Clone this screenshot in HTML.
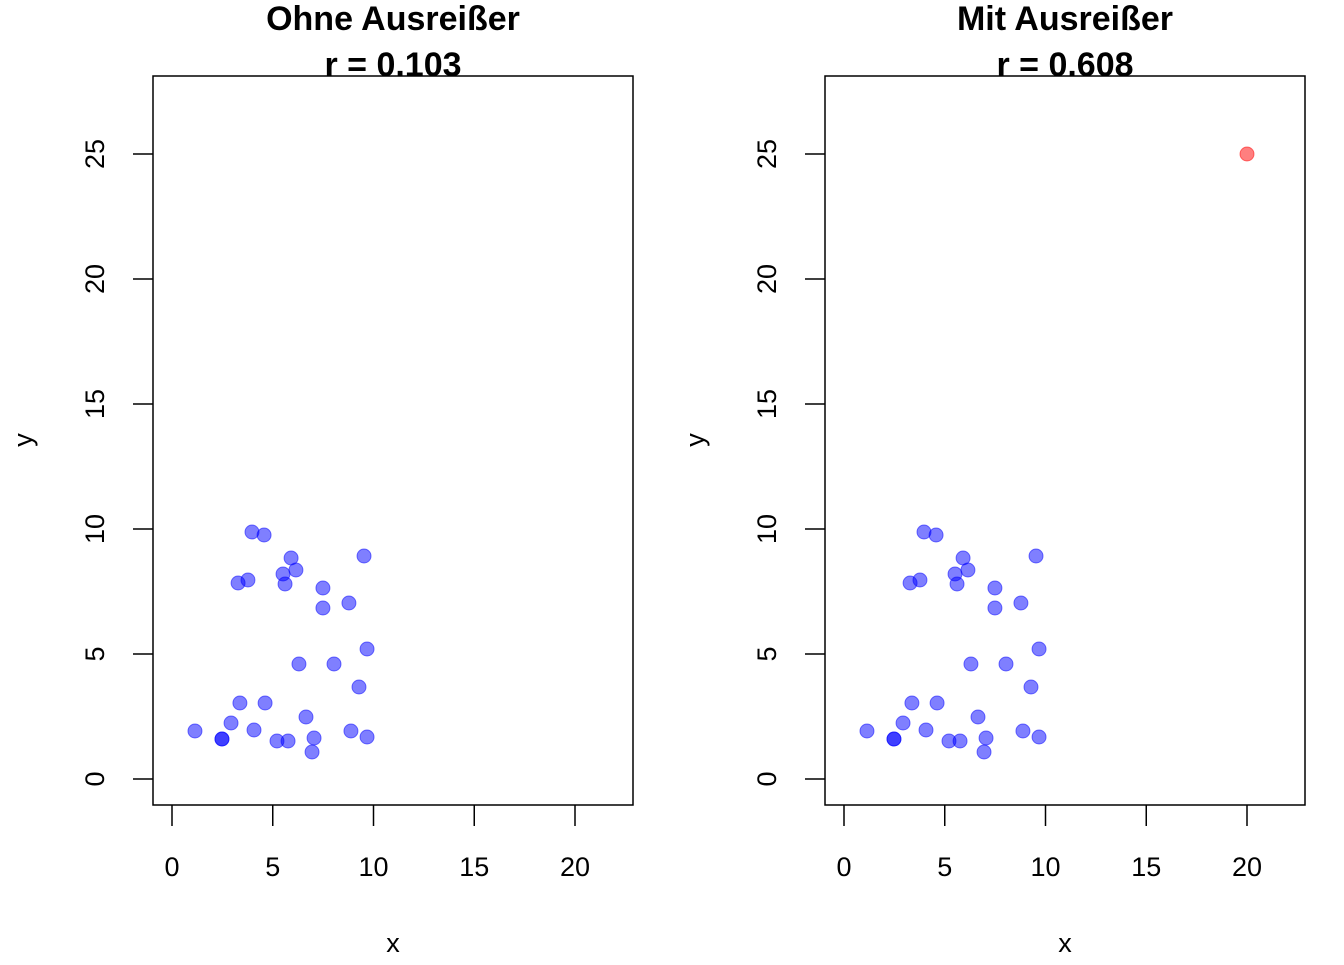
<!DOCTYPE html>
<html><head><meta charset="utf-8"><style>
body{margin:0;background:#fff;}
svg text{font-family:"Liberation Sans",Arial,sans-serif;fill:#000;}
</style></head><body>
<svg id="chart" width="1344" height="960" xmlns="http://www.w3.org/2000/svg"></svg>
<script>
const xs=[1.14,2.48,2.48,2.93,3.37,3.28,3.77,3.97,4.07,4.57,4.62,5.21,5.51,5.61,5.76,5.91,6.15,6.30,6.65,6.95,7.05,7.49,7.49,8.04,8.78,8.88,9.28,9.53,9.68,9.68];
const ys=[1.92,1.6,1.6,2.24,3.04,7.84,7.96,9.88,1.96,9.76,3.04,1.52,8.2,7.8,1.52,8.84,8.36,4.6,2.48,1.08,1.64,7.64,6.84,4.6,7.04,1.92,3.68,8.92,5.2,1.68];
const outlierX=[20];
const outlierY=[25];
const xTicks=[0,5,10,15,20];
const yTicks=[0,5,10,15,20,25];
const titles=["Ohne Ausreißer","Mit Ausreißer"];
const rLabels=["r = 0.103","r = 0.608"];
const NS="http://www.w3.org/2000/svg";
const svg=document.getElementById('chart');
function mk(t,a,txt){const e=document.createElementNS(NS,t);for(const k in a)e.setAttribute(k,a[k]);if(txt!==undefined)e.textContent=txt;svg.appendChild(e);return e;}
const panels=[{bx:153,x0:172},{bx:825,x0:844}];
const ppx=(575-172)/20, ppy=(779-154)/25, y0=779;
panels.forEach((p,i)=>{
  const sx=v=>p.x0+v*ppx, sy=v=>y0-v*ppy;
  let e=mk('rect',{x:p.bx,y:76,width:480,height:729,fill:'none',stroke:'#000','stroke-width':1.5});
  
  e=mk('text',{x:p.bx+240,y:30,'text-anchor':'middle','font-size':34,'font-weight':'bold'},titles[i]);
  
  e=mk('text',{x:p.bx+240,y:76,'text-anchor':'middle','font-size':34,'font-weight':'bold'},rLabels[i]);
  
  xTicks.forEach(t=>{mk('line',{x1:sx(t),x2:sx(t),y1:805,y2:826,stroke:'#000','stroke-width':1.5});
    e=mk('text',{x:sx(t),y:876,'text-anchor':'middle','font-size':27},t);
    });
  const ax=p.bx;
  yTicks.forEach(t=>{mk('line',{x1:ax,x2:ax-20,y1:sy(t),y2:sy(t),stroke:'#000','stroke-width':1.5});
    e=mk('text',{x:ax-58,y:sy(t),'text-anchor':'middle','font-size':27,transform:`rotate(-90 ${ax-58} ${sy(t)})`,dy:9},t);
    });
  e=mk('text',{x:p.bx+240,y:952,'text-anchor':'middle','font-size':27},'x');
  
  const yx=p.bx-129;
  e=mk('text',{x:yx,y:440,'text-anchor':'middle','font-size':27,transform:`rotate(-90 ${yx} 440)`,dy:8},'y');
  
  xs.forEach((v,j)=>{e=mk('circle',{cx:sx(v),cy:sy(ys[j]),r:7,fill:'rgba(0,0,255,0.5)',stroke:'rgba(0,0,255,0.5)','stroke-width':1});
    });
  if(i===1){outlierX.forEach((v,j)=>{e=mk('circle',{cx:sx(v),cy:sy(outlierY[j]),r:7,fill:'rgba(255,0,0,0.5)',stroke:'rgba(255,0,0,0.5)','stroke-width':1});
    });}
});
</script>
</body></html>
